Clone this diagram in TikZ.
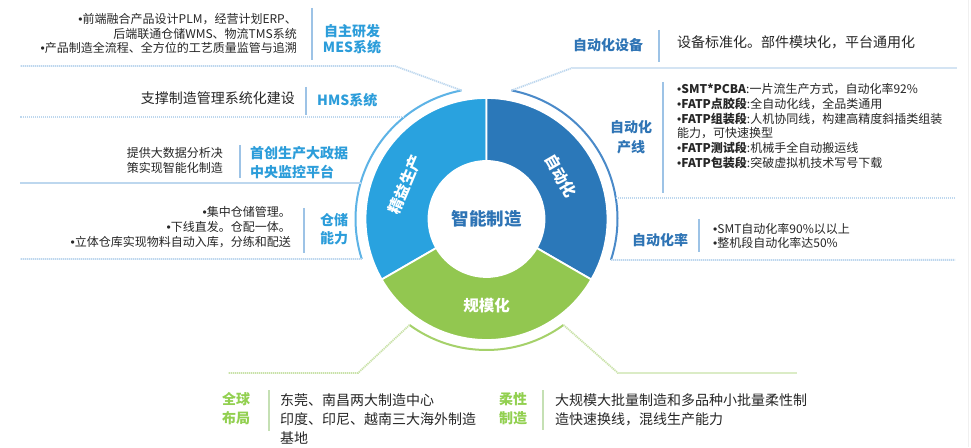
\documentclass[tikz,border=0pt]{standalone}
\usepackage{fontspec}
\setmainfont{Noto Sans CJK SC}
\newfontfamily\bulfont{Liberation Sans}
\newcommand\bul{{\bulfont •}}
\usetikzlibrary{calc}
\definecolor{segl}{HTML}{29A2DF}
\definecolor{segd}{HTML}{2B78B9}
\definecolor{segg}{HTML}{92C750}
\definecolor{lblL}{HTML}{2C9DDA}
\definecolor{lblR}{HTML}{2E74B5}
\definecolor{lblG}{HTML}{92D050}
\definecolor{txt}{HTML}{262626}
\definecolor{ringL}{HTML}{5DB3E6}
\definecolor{ringR}{HTML}{4A8AC9}
\definecolor{ringG}{HTML}{A5D16A}
\definecolor{dashB}{HTML}{BDD7EE}
\definecolor{dashG}{HTML}{C9E2A8}
\definecolor{sepB}{HTML}{9DC3E6}
\definecolor{sepG}{HTML}{C5E0B4}
\begin{document}
\begin{tikzpicture}[x=1pt,y=1pt,
  desc/.style={inner sep=0pt, text=txt, font=\fontsize{12}{14.6}\selectfont},
  descbig/.style={inner sep=0pt, text=txt, font=\fontsize{14}{19}\selectfont},
  lblleft/.style={inner sep=0pt, text=lblL, font=\fontsize{14}{16}\selectfont\bfseries},
  lblright/.style={inner sep=0pt, text=lblR, font=\fontsize{14}{20}\selectfont\bfseries},
  lblgreen/.style={inner sep=0pt, text=lblG, font=\fontsize{14}{19}\selectfont\bfseries},
  seglbl/.style={inner sep=0pt, text=white, font=\fontsize{15.5}{15.5}\selectfont\bfseries},
  sepb/.style={draw=sepB, line width=1.6pt},
  sepg/.style={draw=sepG, line width=1.6pt},
  dashb/.style={draw=dashB, line width=1.8pt, dash pattern=on 1.2pt off 0.8pt},
  dashg/.style={draw=dashG, line width=1.8pt, dash pattern=on 1.2pt off 0.8pt},
  segment/.style={draw=white, line width=1.8pt},
]
\useasboundingbox (0,0) rectangle (971,447);
\fill[white] (0,0) rectangle (971,447);
\draw[gray!12, line width=0.8pt] (968,0) -- (968,447);

% ---------- donut ----------
\coordinate (c) at (486.5,228);
\filldraw[segment, fill=segl] ($(c)+(90:121)$) arc[start angle=90,end angle=210,radius=121]
   -- ($(c)+(210:58)$) arc[start angle=210,end angle=90,radius=58] -- cycle;
\filldraw[segment, fill=segd] ($(c)+(-30:121)$) arc[start angle=-30,end angle=90,radius=121]
   -- ($(c)+(90:58)$) arc[start angle=90,end angle=-30,radius=58] -- cycle;
\filldraw[segment, fill=segg] ($(c)+(210:121)$) arc[start angle=210,end angle=330,radius=121]
   -- ($(c)+(330:58)$) arc[start angle=330,end angle=210,radius=58] -- cycle;

\node[inner sep=0pt, text=lblR, font=\fontsize{17.5}{17.5}\selectfont\bfseries] (center) at (c) {智能制造};

\node[seglbl, rotate=67] (segA) at ($(c)+(157:88)$) {精益生产};
\node[seglbl, rotate=-60] (segB) at ($(c)+(30:86)$) {自动化};
\node[seglbl] (segC) at ($(c)+(270:87)$) {规模化};

% ---------- outer rings ----------
\draw[draw=ringL, line width=2pt] ($(c)+(101:131)$) coordinate (rl1)
   arc[start angle=101,end angle=197.8,radius=131] coordinate (rl2);
\draw[draw=ringR, line width=2pt] ($(c)+(79:131)$) coordinate (rr1)
   arc[start angle=79,end angle=-18.2,radius=131] coordinate (rr2);
\draw[draw=ringG, line width=2pt] ($(c)+(234:131)$) coordinate (rg1)
   arc[start angle=234,end angle=306,radius=131] coordinate (rg2);

% ---------- dashed separators ----------
\coordinate (mesA) at (395,381);  \coordinate (mesB) at (20,381);
\draw[dashb] (rl1) -- (mesA) -- (mesB);
\coordinate (hmsA) at (404.3,330); \coordinate (hmsB) at (20,330);
\draw[dashb] (hmsA) -- (hmsB);
\coordinate (scA) at (360.5,264); \coordinate (scB) at (20,264);
\draw[dashb] (scA) -- (scB);
\coordinate (ccB) at (20,187.9);
\draw[dashb] (rl2) -- (ccB);

\coordinate (sbA) at (572,379); \coordinate (sbB) at (957,379);
\draw[dashb] (rr1) -- (sbA) -- (sbB);
\coordinate (cxA) at (615.8,249); \coordinate (cxB) at (955,249);
\draw[dashb] (cxA) -- (cxB);
\coordinate (zlB) at (955,187.1);
\draw[dashb] (rr2) -- (zlB);

\coordinate (qqA) at (358,74); \coordinate (qqB) at (228,74);
\draw[dashg] (rg1) -- (qqA) -- (qqB);
\coordinate (rxA) at (618,74); \coordinate (rxB) at (797,74);
\draw[dashg] (rg2) -- (rxA) -- (rxB);

% ---------- left blocks ----------
\node[desc, anchor=east, align=right] (mesd) at (297,413.5)
  {\bul 前端融合产品设计PLM，经营计划ERP、\\后端联通仓储WMS、物流TMS系统\\\bul 产品制造全流程、全方位的工艺质量监管与追溯};
\coordinate (mesS1) at (312,439); \coordinate (mesS2) at (312,387);
\draw[sepb] (mesS1) -- (mesS2);
\node[lblleft, align=center] (mesl) at (352,407.5) {自主研发\\MES系统};

\node[descbig, anchor=east] (hmsd) at (295,349) {支撑制造管理系统化建设};
\coordinate (hmsS1) at (306,360); \coordinate (hmsS2) at (306,332);
\draw[sepb] (hmsS1) -- (hmsS2);
\node[lblleft, anchor=west] (hmsl) at (317,347) {HMS系统};

\node[desc, anchor=east, align=right, font=\fontsize{12}{15}\selectfont] (scd) at (223,286.5)
  {提供大数据分析决\\策实现智能化制造};
\coordinate (scS1) at (240,302); \coordinate (scS2) at (240,269);
\draw[sepb] (scS1) -- (scS2);
\node[lblleft, anchor=west, align=left, font=\fontsize{14}{19}\selectfont\bfseries] (scl) at (250,284.5)
  {首创生产大政据\\中央监控平台};

\node[desc, anchor=east, align=right, font=\fontsize{12}{15}\selectfont] (ccd) at (291,220)
  {\bul 集中仓储管理。\\\bul 下线直发。仓配一体。\\\bul 立体仓库实现物料自动入库，分练和配送};
\coordinate (ccS1) at (304,239); \coordinate (ccS2) at (304,194);
\draw[sepb] (ccS1) -- (ccS2);
\node[lblleft, align=center, font=\fontsize{14}{18}\selectfont\bfseries] (ccl) at (334,218) {仓储\\能力};

% ---------- right blocks ----------
\node[lblright] (sbl) at (608,402) {自动化设备};
\coordinate (sbS1) at (659,417); \coordinate (sbS2) at (659,385);
\draw[sepb] (sbS1) -- (sbS2);
\node[descbig, anchor=west] (sbd) at (677,405) {设备标准化。部件模块化，平台通用化};

\node[lblright, align=center] (cxl) at (631,310) {自动化\\产线};
\coordinate (cxS1) at (663,365); \coordinate (cxS2) at (663,254);
\draw[sepb] (cxS1) -- (cxS2);
\node[desc, anchor=west, align=left, font=\fontsize{12}{14.8}\selectfont] (cxd) at (677,321)
  {\bul\textbf{SMT*PCBA}:一片流生产方式，自动化率92\%\\
   \bul\textbf{FATP点胶段}:全自动化线，全品类通用\\
   \bul\textbf{FATP组装段}:人机协同线，构建高精度斜插类组装\\
   能力，可快速换型\\
   \bul\textbf{FATP测试段}:机械手全自动搬运线\\
   \bul\textbf{FATP包装段}:突破虚拟机技术写号下载};

\node[lblright] (zll) at (660,207) {自动化率};
\coordinate (zlS1) at (699,228); \coordinate (zlS2) at (699,195);
\draw[sepb] (zlS1) -- (zlS2);
\node[desc, anchor=west, align=left, font=\fontsize{12}{14}\selectfont] (zld) at (713,211)
  {\bul SMT自动化率90\%以以上\\\bul 整机段自动化率达50\%};

% ---------- bottom blocks ----------
\node[lblgreen, align=center] (qql) at (236,38.5) {全球\\布局};
\coordinate (qqS1) at (269,57); \coordinate (qqS2) at (269,16);
\draw[sepg] (qqS1) -- (qqS2);
\node[descbig, anchor=west, align=left] (qqd) at (280,28)
  {东莞、南昌两大制造中心\\印度、印尼、越南三大海外制造\\基地};

\node[lblgreen, align=center] (rxl) at (513,38.5) {柔性\\制造};
\coordinate (rxS1) at (543,57); \coordinate (rxS2) at (543,17);
\draw[sepg] (rxS1) -- (rxS2);
\node[descbig, anchor=west, align=left] (rxd) at (555,37.5)
  {大规模大批量制造和多品种小批量柔性制\\造快速换线，混线生产能力};
\end{tikzpicture}
\end{document}
